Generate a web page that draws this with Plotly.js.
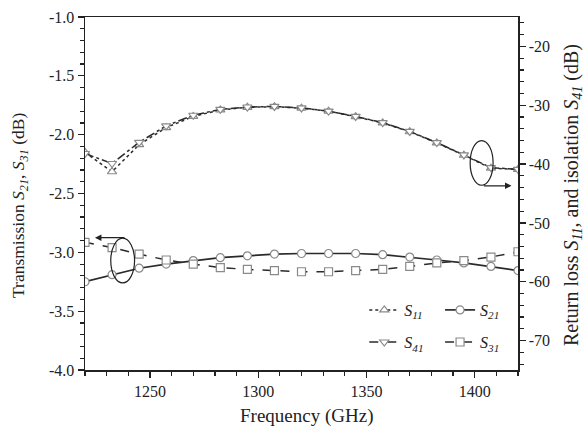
<!DOCTYPE html>
<html><head><meta charset="utf-8">
<script src="https://cdn.plot.ly/plotly-3.0.1.min.js"></script>
<style>html,body{margin:0;padding:0;background:#fff}#plot{width:585px;height:430px}</style>
</head><body><div id="plot"></div>
<script>
const freq = [1220,1232.5,1245,1257.5,1270,1282.5,1295,1307.5,1320,1332.5,1345,1357.5,1370,1382.5,1395,1407.5,1420];
const s11 = [-38.0,-41.3,-36.7,-33.8,-31.9,-30.8,-30.35,-30.25,-30.5,-31.0,-31.95,-33.0,-34.5,-36.4,-38.5,-40.7,-40.9];
const s41 = [-38.2,-39.9,-36.3,-33.5,-31.7,-30.7,-30.3,-30.2,-30.45,-31.0,-31.9,-32.95,-34.45,-36.35,-38.45,-40.6,-40.9];
const s21 = [-3.25,-3.19,-3.135,-3.10,-3.07,-3.045,-3.03,-3.015,-3.01,-3.01,-3.01,-3.02,-3.04,-3.065,-3.09,-3.12,-3.155];
const s31 = [-2.915,-2.96,-3.015,-3.065,-3.10,-3.13,-3.145,-3.155,-3.165,-3.165,-3.155,-3.145,-3.12,-3.09,-3.07,-3.04,-2.995];
const xTicks = [1250,1300,1350,1400];
const yTicks = [-1.0,-1.5,-2.0,-2.5,-3.0,-3.5,-4.0];
const yTickText = ['-1.0','-1.5','-2.0','-2.5','-3.0','-3.5','-4.0'];
const y2Ticks = [-20,-30,-40,-50,-60,-70];
const y2TickText = ['-20','-30','-40','-50','-60','-70'];

const lineC = '#2a2a2a', mkC = '#8a8a8a';
const mk = (sym) => ({symbol: sym, size: 8, color: '#fff', line: {color: mkC, width: 1.2}});
const traces = [
  {x: freq, y: s11, yaxis: 'y2', name: '<i>S</i><sub><i>11</i></sub>', mode: 'lines+markers', legend: 'legend',
   line: {color: lineC, width: 1.5, dash: 'dot'}, marker: mk('triangle-up')},
  {x: freq, y: s21, yaxis: 'y', name: '<i>S</i><sub><i>21</i></sub>', mode: 'lines+markers', legend: 'legend2',
   line: {color: lineC, width: 1.7}, marker: mk('circle')},
  {x: freq, y: s41, yaxis: 'y2', name: '<i>S</i><sub><i>41</i></sub>', mode: 'lines+markers', legend: 'legend3',
   line: {color: lineC, width: 1.5, dash: 'dashdot'}, marker: mk('triangle-down')},
  {x: freq, y: s31, yaxis: 'y', name: '<i>S</i><sub><i>31</i></sub>', mode: 'lines+markers', legend: 'legend4',
   line: {color: lineC, width: 1.5, dash: 'dash'}, marker: mk('square')}
];
const font = {family: '"Liberation Serif", "Times New Roman", serif', color: '#222', size: 16};
const axCommon = {showline: true, linecolor: '#222', linewidth: 1.5, ticks: 'outside', ticklen: 6, tickwidth: 1.3,
  tickcolor: '#222', showgrid: false, zeroline: false, tickfont: {size: 16}};
const minorT = (d, t0) => ({dtick: d, tick0: t0, ticks: 'outside', ticklen: 4, tickcolor: '#222', tickwidth: 1.2});
const leg = (x, y) => ({x: x, xanchor: 'left', y: y, yanchor: 'middle', bgcolor: 'rgba(0,0,0,0)', font: {size: 16}});
const layout = {
  width: 585, height: 430, margin: {l: 85, r: 67, t: 17, b: 60},
  paper_bgcolor: '#fff', plot_bgcolor: '#fff', font: font,
  xaxis: Object.assign({}, axCommon, {range: [1220, 1420], tickvals: xTicks, mirror: true, minor: minorT(10, 1220)}),
  yaxis: Object.assign({}, axCommon, {range: [-4, -1], tickvals: yTicks, ticktext: yTickText, minor: minorT(0.1, -4)}),
  yaxis2: Object.assign({}, axCommon, {overlaying: 'y', side: 'right', range: [-75, -15],
    tickvals: y2Ticks, ticktext: y2TickText, minor: minorT(2, -20)}),
  showlegend: true,
  legend: leg(0.645, 0.17),
  legend2: leg(0.82, 0.17),
  legend3: leg(0.645, 0.079),
  legend4: leg(0.82, 0.079),
  shapes: [
    {type: 'circle', xref: 'x', yref: 'y2', x0: 1397.9, x1: 1408.5, y0: -43.6, y1: -36.0, line: {color: '#222', width: 1.2}},
    {type: 'circle', xref: 'x', yref: 'y', x0: 1231.9, x1: 1242.9, y0: -3.26, y1: -2.88, line: {color: '#222', width: 1.2}}
  ],
  annotations: [
    {xref: 'x', yref: 'y2', x: 1417, y: -43.7, ax: -29, ay: 0, showarrow: true, arrowhead: 2, arrowsize: 1, arrowwidth: 1.3, arrowcolor: '#222', text: ''},
    {xref: 'x', yref: 'y', x: 1224.6, y: -2.875, ax: 31, ay: 0, showarrow: true, arrowhead: 2, arrowsize: 1, arrowwidth: 1.3, arrowcolor: '#222', text: ''},
    {xref: 'paper', yref: 'paper', x: (306 - 85) / 433, y: -(416 - 370) / 353, xanchor: 'center', yanchor: 'middle',
     showarrow: false, text: 'Frequency (GHz)', font: {size: 19}},
    {xref: 'paper', yref: 'paper', x: (19 - 85) / 433, y: (370 - 206) / 353, xanchor: 'center', yanchor: 'middle',
     showarrow: false, textangle: -90, text: 'Transmission <i>S</i><sub><i>21</i></sub>, <i>S</i><sub><i>31</i></sub> (dB)', font: {size: 17.5}},
    {xref: 'paper', yref: 'paper', x: (572 - 85) / 433, y: (370 - 195) / 353, xanchor: 'center', yanchor: 'middle',
     showarrow: false, textangle: -90, text: 'Return loss <i>S</i><sub><i>11</i></sub>, and isolation <i>S</i><sub><i>41</i></sub> (dB)', font: {size: 20}}
  ]
};
Plotly.newPlot('plot', traces, layout, {displayModeBar: false, staticPlot: true});
</script></body></html>
